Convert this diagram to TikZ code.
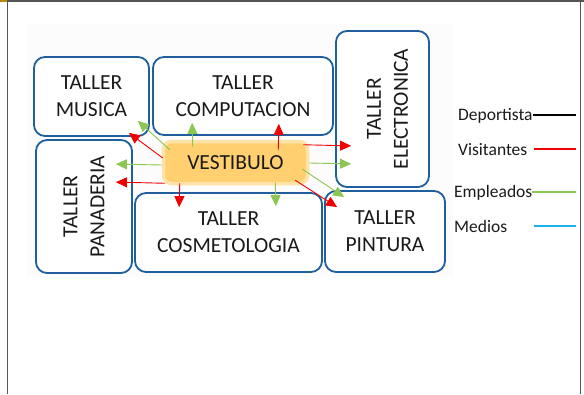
\documentclass[tikz,border=0pt]{standalone}
\usepackage{fontspec}
\setmainfont{Carlito}
\usetikzlibrary{arrows.meta, calc}
\definecolor{BoxBlue}{HTML}{1F5F9E}
\definecolor{VestOrange}{HTML}{FFCF70}
\definecolor{GlowOrange}{HTML}{FFE2A6}
\definecolor{ArrowRed}{HTML}{F00000}
\definecolor{ArrowGreen}{HTML}{8CC653}
\definecolor{MedioBlue}{HTML}{1AB2EE}
\definecolor{FrameGray}{HTML}{555555}
\definecolor{FrameOrange}{HTML}{B8860B}
\definecolor{TextBlack}{HTML}{1A1A1A}
\definecolor{BackGray}{HTML}{FCFCFC}
\tikzset{
  tallerbox/.style={draw=BoxBlue, line width=1.8pt, rounded corners=11pt, fill=white, align=center, inner sep=0pt, text=TextBlack, font=\fontsize{21.5}{27}\selectfont},
  vestbox/.style={draw=GlowOrange, line width=3.5pt, rounded corners=8pt, fill=VestOrange, align=center, inner sep=0pt, text=TextBlack, font=\fontsize{21.5}{27}\selectfont},
  legendtext/.style={anchor=base west, inner sep=0pt, text=TextBlack, font=\fontsize{17.5}{20}\selectfont},
  redarrow/.style={-{Triangle[length=11pt, width=10pt]}, line width=0.9pt, draw=ArrowRed},
  greenarrow/.style={-{Triangle[length=11pt, width=10pt]}, line width=0.9pt, draw=ArrowGreen},
  legendline/.style={line width=1.8pt}
}
\newcommand{\twolines}[2]{\rotatebox{90}{\begin{tabular}{@{}c@{}}#1\\#2\end{tabular}}}

\begin{document}
\begin{tikzpicture}[x=1pt, y=-1pt]
\useasboundingbox (0,0) rectangle (584,394);
% frame
\fill[FrameOrange] (0,0) rectangle (7,2);
\draw[FrameGray, line width=1.6pt] (7.5,394) -- (7.5,0.8) -- (584,0.8);
\draw[FrameGray, line width=1.6pt] (580.5,0.8) -- (580.5,394);
\fill[BackGray] (27,24) rectangle (453,277);

% talleres
\node[tallerbox, minimum width=115pt, minimum height=79pt] (musica) at (91.5,96.5) {TALLER\\MUSICA};
\node[tallerbox, minimum width=180pt, minimum height=78pt] (comput) at (243,96) {TALLER\\COMPUTACION};
\node[tallerbox, minimum width=96pt, minimum height=133pt] (panad) at (84,206.5) {\hspace*{3pt}\twolines{TALLER}{PANADERIA}};
\node[tallerbox, minimum width=187pt, minimum height=79pt] (cosmet) at (228.5,232.5) {TALLER\\COSMETOLOGIA};
\node[tallerbox, minimum width=93pt, minimum height=156pt] (electr) at (382.5,109) {\hspace*{13pt}\twolines{TALLER}{ELECTRONICA}};
\node[tallerbox, minimum width=120pt, minimum height=81pt] (pintura) at (385,231.5) {TALLER\\PINTURA};
\node[vestbox, minimum width=144pt, minimum height=42pt] (vest) at (235.5,162.5) {VESTIBULO};

% empleados
\draw[greenarrow] ($(vest.north west)+(8,10)$) -- ($(musica.south east)+(-12,-16)$);
\draw[greenarrow] ($(vest.north west)+(31,7)$) -- ($(comput.south west)+(40,-13)$);
\draw[greenarrow] ($(vest.west)+(0,2.5)$) -- ($(panad.north east)+(-17,25)$);
\draw[greenarrow] ($(vest.south east)+(-34,-3)$) -- ($(cosmet.north east)+(-47,14)$);
\draw[greenarrow] ($(vest.east)+(0,0.5)$) -- ($(electr.south west)+(16,-24)$);
\draw[greenarrow] ($(vest.east)+(-7,6.5)$) -- ($(pintura.north west)+(20,7)$);
% visitantes
\draw[redarrow] ($(vest.west)+(1,-4.5)$) -- ($(musica.south east)+(-21,-4)$);
\draw[redarrow] ($(vest.north east)+(-31,10)$) -- ($(comput.south east)+(-55,-12)$);
\draw[redarrow] ($(vest.south west)+(3,-2)$) -- ($(panad.north east)+(-17,43)$);
\draw[redarrow] ($(vest.south west)+(18,-2)$) -- ($(cosmet.north west)+(45,15)$);
\draw[redarrow] ($(vest.north east)+(-6,5)$) -- ($(electr.south west)+(16,-42)$);
\draw[redarrow] ($(vest.south east)+(-14,-5)$) -- ($(pintura.north west)+(13,17)$);

% leyenda
\coordinate (legstart) at (534,0);
\coordinate (legend) at (576,0);
\node[legendtext] (depo) at (458,120) {Deportista};
\node[legendtext] (visit) at (458,155) {Visitantes};
\node[legendtext] (emple) at (454,197) {Empleados};
\node[legendtext] (medio) at (454,232) {Medios};
\draw[legendline, black] (depo.east) -- (depo.east -| legend);
\draw[legendline, ArrowRed] (visit.east -| legstart) -- (visit.east -| legend);
\draw[legendline, ArrowGreen] (emple.east) -- (emple.east -| legend);
\draw[legendline, MedioBlue] (medio.east -| legstart) -- (medio.east -| legend);
\end{tikzpicture}
\end{document}
